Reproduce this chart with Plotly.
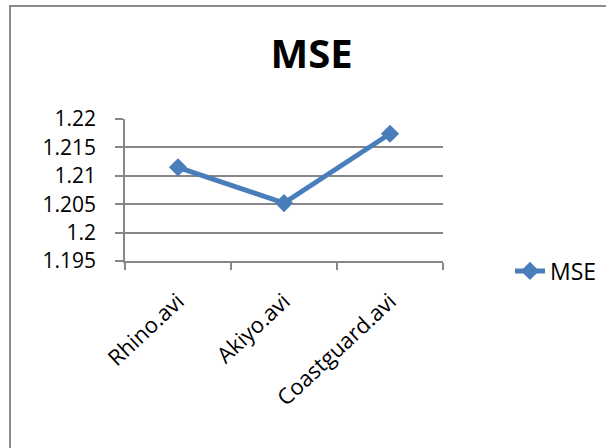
import plotly.graph_objects as go

# MSE per test video
videos = ["Rhino.avi", "Akiyo.avi", "Coastguard.avi"]
mse = [1.2115, 1.2052, 1.2174]

y_ticks = [1.195, 1.2, 1.205, 1.21, 1.215, 1.22]
y_tick_text = ["1.195", "1.2", "1.205", "1.21", "1.215", "1.22"]

W, H = 606, 448
L, R, T, B = 125, 163, 119, 187
grid = "#878787"
blue = "#4A7EBB"
font = "Open Sans"

fig = go.Figure(
    go.Scatter(
        x=videos,
        y=mse,
        name="MSE",
        mode="lines+markers",
        line=dict(color=blue, width=5),
        marker=dict(symbol="diamond", size=14, color=blue),
    )
)

pw = W - L - R
ph = H - T - B


def px_x(x):
    return (x - L) / pw


def px_y(y):
    return (H - B - y) / ph


fig.update_layout(
    width=W,
    height=H,
    margin=dict(l=L, r=R, t=T, b=B, autoexpand=False),
    paper_bgcolor="white",
    plot_bgcolor="white",
    font=dict(family=font, color="black", size=22),
    title=dict(
        text="<b>MSE</b>",
        font=dict(family=font, size=40, color="black"),
        x=px_x(311.5),
        xref="paper",
        xanchor="center",
        y=1 - 54 / H,
        yref="container",
        yanchor="middle",
    ),
    showlegend=True,
    legend=dict(
        x=px_x(510),
        y=px_y(271),
        xanchor="left",
        yanchor="middle",
        font=dict(family=font, size=23, color="black"),
        bgcolor="rgba(0,0,0,0)",
    ),
    shapes=[
        dict(
            type="rect",
            xref="paper",
            yref="paper",
            x0=px_x(10),
            x1=px_x(W + 20),
            y0=px_y(6),
            y1=px_y(H + 20),
            line=dict(color="#8c8c8c", width=2),
            layer="below",
        )
    ],
)

fig.update_xaxes(
    type="category",
    range=[-0.5, 2.5],
    showgrid=False,
    showline=True,
    linecolor=grid,
    linewidth=1.5,
    ticks="outside",
    tickson="boundaries",
    ticklen=7,
    tickcolor=grid,
    tickwidth=1.5,
    tickangle=-43,
    ticklabelstandoff=17,
    tickfont=dict(family=font, size=22, color="black"),
)

fig.update_yaxes(
    range=[1.195, 1.22],
    tickvals=y_ticks,
    ticktext=y_tick_text,
    showgrid=True,
    gridcolor=grid,
    gridwidth=1.5,
    showline=True,
    linecolor=grid,
    linewidth=1.5,
    ticks="outside",
    ticklen=8,
    tickcolor=grid,
    tickwidth=1.5,
    ticklabelstandoff=15,
    zeroline=False,
    tickfont=dict(family=font, size=21, color="black"),
)

fig.write_html("out.html")
